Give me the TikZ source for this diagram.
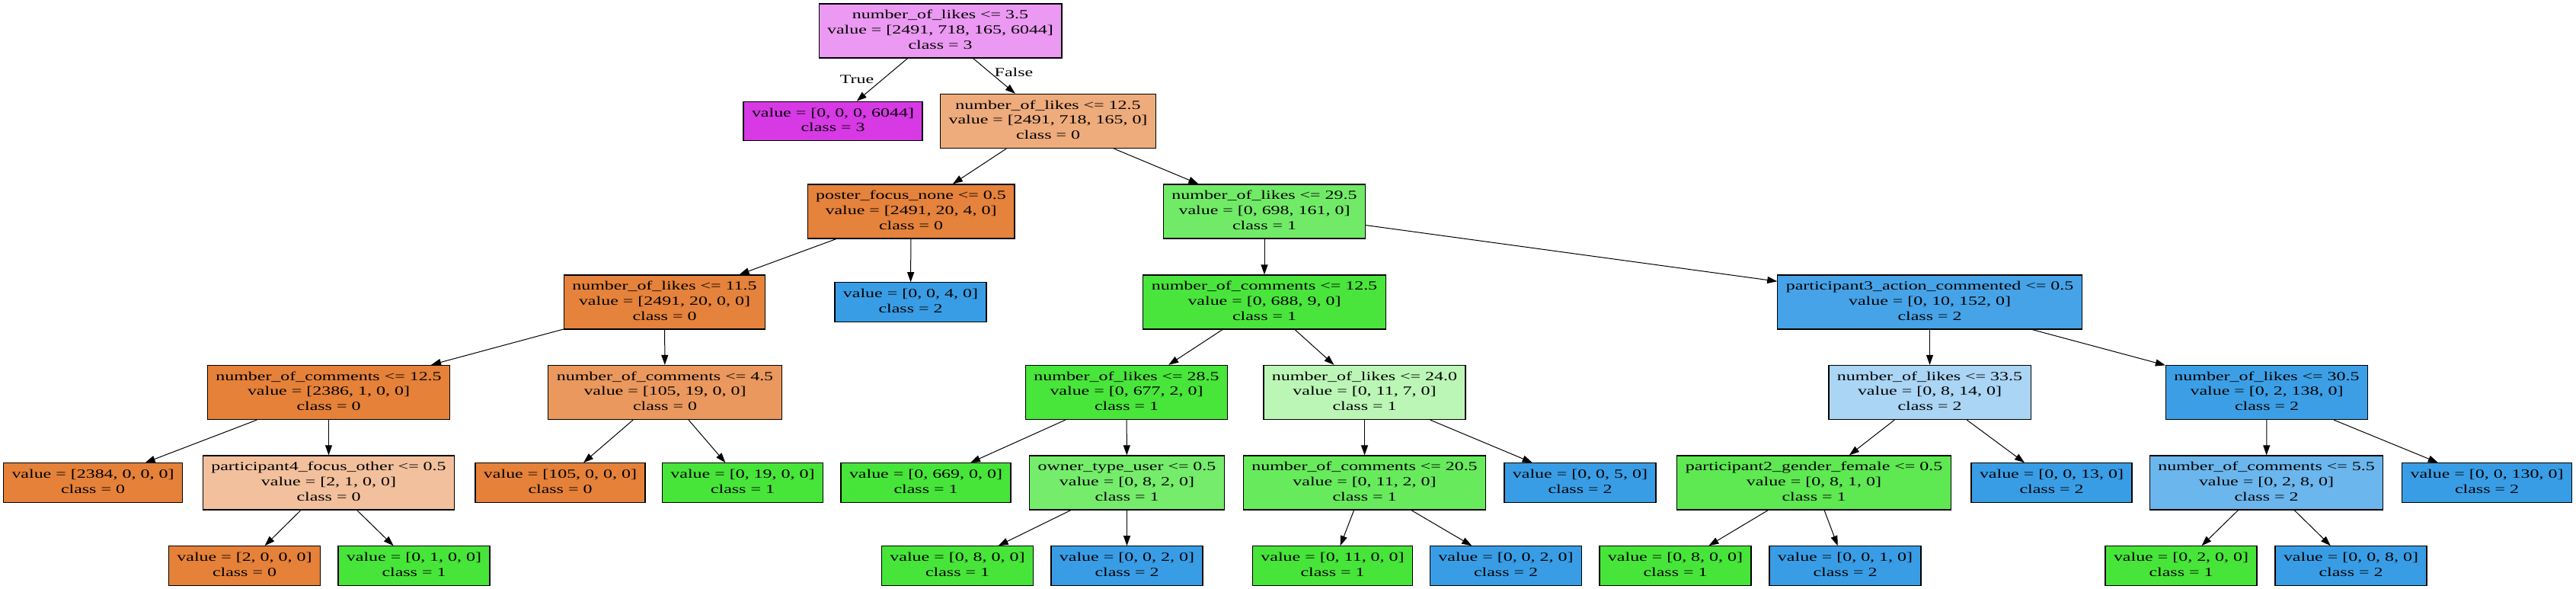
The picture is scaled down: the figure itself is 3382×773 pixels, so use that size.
\documentclass[tikz,border=0pt]{standalone}
\usepackage{fontspec}
\setmainfont{Liberation Serif}
\usepackage{graphicx}
\usepackage{tikz}
\usetikzlibrary{arrows.meta}

\definecolor{cls0}{RGB}{229,129,57}
\definecolor{cls1}{RGB}{71,229,57}
\definecolor{cls2}{RGB}{57,157,229}
\definecolor{cls3}{RGB}{215,57,229}
\definecolor{mxroot}{RGB}{235,153,242}
\definecolor{mxa}{RGB}{238,171,123}
\definecolor{mxb}{RGB}{229,130,59}
\definecolor{mxc}{RGB}{113,235,103}
\definecolor{mxd}{RGB}{73,229,60}
\definecolor{mxe}{RGB}{70,163,231}
\definecolor{mxf}{RGB}{234,152,93}
\definecolor{mxg}{RGB}{72,229,58}
\definecolor{mxh}{RGB}{188,246,183}
\definecolor{mxi}{RGB}{170,213,244}
\definecolor{mxj}{RGB}{60,159,229}
\definecolor{mxk}{RGB}{242,192,156}
\definecolor{mxl}{RGB}{117,236,107}
\definecolor{mxm}{RGB}{104,234,93}
\definecolor{mxn}{RGB}{94,232,82}
\definecolor{mxo}{RGB}{107,182,236}

\newcommand{\tl}[1]{\scalebox{1.46}[1]{\begin{tabular}{@{}c@{}}#1\end{tabular}}}

\begin{document}
\begin{tikzpicture}[x=1pt,y=-1pt,
		dt/.style={draw=black,line width=1.2pt,inner xsep=11pt,inner ysep=6pt,font=\fontsize{16.4}{19.7}\selectfont},
		lbl/.style={inner sep=0pt,font=\fontsize{16.4}{19.7}\selectfont},
		edge/.style={line width=1pt,-{Triangle[length=13pt,width=9pt]}}]
		\path[use as bounding box,fill=white] (0,0) rectangle (3382,773);
		\node[dt,fill=mxroot] (root) at (1234.5,40.5) {\tl{number\_of\_likes <= 3.5\\value = [2491, 718, 165, 6044]\\class = 3}};
		\node[dt,fill=cls3] (lf3) at (1093.5,159) {\tl{value = [0, 0, 0, 6044]\\class = 3}};
		\node[dt,fill=mxa] (likesA) at (1376,159) {\tl{number\_of\_likes <= 12.5\\value = [2491, 718, 165, 0]\\class = 0}};
		\node[dt,fill=mxb] (poster) at (1196,277.5) {\tl{poster\_focus\_none <= 0.5\\value = [2491, 20, 4, 0]\\class = 0}};
		\node[dt,fill=mxc] (likesB) at (1660,277.5) {\tl{number\_of\_likes <= 29.5\\value = [0, 698, 161, 0]\\class = 1}};
		\node[dt,fill=mxb] (likesC) at (872.5,396.5) {\tl{number\_of\_likes <= 11.5\\value = [2491, 20, 0, 0]\\class = 0}};
		\node[dt,fill=cls2] (lf004) at (1195.5,396.5) {\tl{value = [0, 0, 4, 0]\\class = 2}};
		\node[dt,fill=mxd] (comA) at (1660,396.5) {\tl{number\_of\_comments <= 12.5\\value = [0, 688, 9, 0]\\class = 1}};
		\node[dt,fill=mxe] (part3) at (2533.5,396.5) {\tl{participant3\_action\_commented <= 0.5\\value = [0, 10, 152, 0]\\class = 2}};
		\node[dt,fill=cls0] (comB) at (431.5,515) {\tl{number\_of\_comments <= 12.5\\value = [2386, 1, 0, 0]\\class = 0}};
		\node[dt,fill=mxf] (comC) at (873,515) {\tl{number\_of\_comments <= 4.5\\value = [105, 19, 0, 0]\\class = 0}};
		\node[dt,fill=mxg] (likesD) at (1479,515) {\tl{number\_of\_likes <= 28.5\\value = [0, 677, 2, 0]\\class = 1}};
		\node[dt,fill=mxh] (likesE) at (1791.5,515) {\tl{number\_of\_likes <= 24.0\\value = [0, 11, 7, 0]\\class = 1}};
		\node[dt,fill=mxi] (likesF) at (2533.5,515) {\tl{number\_of\_likes <= 33.5\\value = [0, 8, 14, 0]\\class = 2}};
		\node[dt,fill=mxj] (likesG) at (2976,515) {\tl{number\_of\_likes <= 30.5\\value = [0, 2, 138, 0]\\class = 2}};
		\node[dt,fill=cls0] (lf2384) at (122,633.5) {\tl{value = [2384, 0, 0, 0]\\class = 0}};
		\node[dt,fill=mxk] (part4) at (431.5,633.5) {\tl{participant4\_focus\_other <= 0.5\\value = [2, 1, 0, 0]\\class = 0}};
		\node[dt,fill=cls0] (lf105) at (735.5,633.5) {\tl{value = [105, 0, 0, 0]\\class = 0}};
		\node[dt,fill=cls1] (lf019) at (975,633.5) {\tl{value = [0, 19, 0, 0]\\class = 1}};
		\node[dt,fill=cls1] (lf669) at (1215.5,633.5) {\tl{value = [0, 669, 0, 0]\\class = 1}};
		\node[dt,fill=mxl] (owner) at (1479.5,633.5) {\tl{owner\_type\_user <= 0.5\\value = [0, 8, 2, 0]\\class = 1}};
		\node[dt,fill=mxm] (comD) at (1791.5,633.5) {\tl{number\_of\_comments <= 20.5\\value = [0, 11, 2, 0]\\class = 1}};
		\node[dt,fill=cls2] (lf005) at (2074.5,633.5) {\tl{value = [0, 0, 5, 0]\\class = 2}};
		\node[dt,fill=mxn] (part2) at (2381.5,633.5) {\tl{participant2\_gender\_female <= 0.5\\value = [0, 8, 1, 0]\\class = 1}};
		\node[dt,fill=cls2] (lf013) at (2693.5,633.5) {\tl{value = [0, 0, 13, 0]\\class = 2}};
		\node[dt,fill=mxo] (comE) at (2975.5,633.5) {\tl{number\_of\_comments <= 5.5\\value = [0, 2, 8, 0]\\class = 2}};
		\node[dt,fill=cls2] (lf130) at (3265,633.5) {\tl{value = [0, 0, 130, 0]\\class = 2}};
		\node[dt,fill=cls0] (lf2000) at (321,742.5) {\tl{value = [2, 0, 0, 0]\\class = 0}};
		\node[dt,fill=cls1] (lf0100) at (543.5,742.5) {\tl{value = [0, 1, 0, 0]\\class = 1}};
		\node[dt,fill=cls1] (lf0800a) at (1257,742.5) {\tl{value = [0, 8, 0, 0]\\class = 1}};
		\node[dt,fill=cls2] (lf0020a) at (1479.5,742.5) {\tl{value = [0, 0, 2, 0]\\class = 2}};
		\node[dt,fill=cls1] (lf0110) at (1749.5,742.5) {\tl{value = [0, 11, 0, 0]\\class = 1}};
		\node[dt,fill=cls2] (lf0020b) at (1977,742.5) {\tl{value = [0, 0, 2, 0]\\class = 2}};
		\node[dt,fill=cls1] (lf0800b) at (2199.5,742.5) {\tl{value = [0, 8, 0, 0]\\class = 1}};
		\node[dt,fill=cls2] (lf0010) at (2422.5,742.5) {\tl{value = [0, 0, 1, 0]\\class = 2}};
		\node[dt,fill=cls1] (lf0200) at (2863.5,742.5) {\tl{value = [0, 2, 0, 0]\\class = 1}};
		\node[dt,fill=cls2] (lf0080) at (3086.5,742.5) {\tl{value = [0, 0, 8, 0]\\class = 2}};
		\draw[edge] (root) -- (lf3);
		\draw[edge] (root) -- (likesA);
		\draw[edge] (likesA) -- (poster);
		\draw[edge] (likesA) -- (likesB);
		\draw[edge] (poster) -- (likesC);
		\draw[edge] (poster) -- (lf004);
		\draw[edge] (likesB) -- (comA);
		\draw[edge] (likesB) -- (part3);
		\draw[edge] (likesC) -- (comB);
		\draw[edge] (likesC) -- (comC);
		\draw[edge] (comA) -- (likesD);
		\draw[edge] (comA) -- (likesE);
		\draw[edge] (part3) -- (likesF);
		\draw[edge] (part3) -- (likesG);
		\draw[edge] (comB) -- (lf2384);
		\draw[edge] (comB) -- (part4);
		\draw[edge] (comC) -- (lf105);
		\draw[edge] (comC) -- (lf019);
		\draw[edge] (likesD) -- (lf669);
		\draw[edge] (likesD) -- (owner);
		\draw[edge] (likesE) -- (comD);
		\draw[edge] (likesE) -- (lf005);
		\draw[edge] (likesF) -- (part2);
		\draw[edge] (likesF) -- (lf013);
		\draw[edge] (likesG) -- (comE);
		\draw[edge] (likesG) -- (lf130);
		\draw[edge] (part4) -- (lf2000);
		\draw[edge] (part4) -- (lf0100);
		\draw[edge] (owner) -- (lf0800a);
		\draw[edge] (owner) -- (lf0020a);
		\draw[edge] (comD) -- (lf0110);
		\draw[edge] (comD) -- (lf0020b);
		\draw[edge] (part2) -- (lf0800b);
		\draw[edge] (part2) -- (lf0010);
		\draw[edge] (comE) -- (lf0200);
		\draw[edge] (comE) -- (lf0080);
		\node[lbl] (true) at (1125,106) {\tl{True}};
		\node[lbl] (false) at (1331,97) {\tl{False}};
	\end{tikzpicture}
\end{document}
